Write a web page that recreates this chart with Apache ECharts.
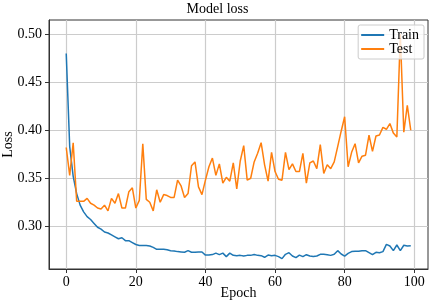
<!DOCTYPE html>
<html>
<head>
    <meta http-equiv="Content-Type" content="text/html; charset=utf-8" />
    <title>Model loss</title>
    <script src="https://cdn.jsdelivr.net/npm/echarts@6/dist/echarts.min.js"></script>
</head>
<body style="margin:0;padding:0;background:#ffffff;">
    <div id="main" style="width:435px;height:304px;"></div>
    <script type="text/javascript">
        // data
        var seriesNames = ['Train', 'Test'];
        var epochs = [];
        for (var i = 0; i < 100; i++) epochs.push(i);
        var trainLoss = [
            0.480, 0.383, 0.352, 0.334, 0.322, 0.315, 0.310, 0.307, 0.303, 0.299,
            0.297, 0.294, 0.293, 0.291, 0.289, 0.287, 0.288, 0.285, 0.285, 0.283,
            0.281, 0.280, 0.280, 0.280, 0.2795, 0.278, 0.276, 0.276, 0.276, 0.2755,
            0.2746, 0.2743, 0.2736, 0.2733, 0.2730, 0.2746, 0.2729, 0.2729, 0.2732, 0.2732,
            0.2700, 0.2700, 0.2705, 0.2720, 0.2705, 0.2720, 0.2684, 0.2720, 0.2697, 0.2694,
            0.2697, 0.2690, 0.2697, 0.2697, 0.2705, 0.2697, 0.2694, 0.2677, 0.2700, 0.2694,
            0.2697, 0.2684, 0.2663, 0.2708, 0.2725, 0.2690, 0.2673, 0.2700, 0.2684, 0.2704,
            0.2690, 0.2684, 0.2690, 0.2708, 0.2708, 0.2704, 0.2697, 0.2708, 0.2746, 0.2711,
            0.2690, 0.2718, 0.2736, 0.2740, 0.2740, 0.2746, 0.2746, 0.2725, 0.2704, 0.2729,
            0.2725, 0.2736, 0.2812, 0.2795, 0.2746, 0.2805, 0.2746, 0.2802, 0.2795, 0.2798
        ];
        var testLoss = [
            0.382, 0.353, 0.387, 0.326, 0.326, 0.326, 0.329, 0.324, 0.322, 0.319,
            0.318, 0.322, 0.316, 0.329, 0.324, 0.334, 0.319, 0.319, 0.336, 0.340,
            0.319, 0.327, 0.386, 0.328, 0.325, 0.316, 0.338, 0.325, 0.333, 0.332,
            0.330, 0.330, 0.348, 0.342, 0.330, 0.334, 0.363, 0.367, 0.341, 0.333,
            0.348, 0.362, 0.371, 0.353, 0.365, 0.345, 0.351, 0.347, 0.366, 0.339,
            0.368, 0.384, 0.348, 0.350, 0.367, 0.376, 0.387, 0.364, 0.347, 0.377,
            0.357, 0.349, 0.348, 0.377, 0.359, 0.365, 0.357, 0.357, 0.376, 0.345,
            0.366, 0.368, 0.360, 0.385, 0.355, 0.364, 0.360, 0.367, 0.383, 0.399,
            0.414, 0.362, 0.377, 0.386, 0.366, 0.373, 0.374, 0.395, 0.378, 0.394,
            0.395, 0.403, 0.401, 0.407, 0.397, 0.393, 0.500, 0.398, 0.426, 0.400
        ];
        var xTicks = [0, 20, 40, 60, 80, 100];
        var yTicks = [0.30, 0.35, 0.40, 0.45, 0.50];

        var fontName = '"Liberation Serif", "DejaVu Serif", serif';

        function pairs(xs, ys) {
            var out = [];
            for (var k = 0; k < ys.length; k++) out.push([xs[k], ys[k]]);
            return out;
        }

        var chart = echarts.init(document.getElementById('main'), null, { renderer: 'canvas' });
        var option = {
            backgroundColor: '#ffffff',
            animation: false,
            textStyle: { fontFamily: fontName },
            title: {
                text: 'Model loss',
                left: 'center',
                top: -3,
                textStyle: { fontFamily: fontName, fontSize: 14, fontWeight: 'normal', color: '#000000' }
            },
            legend: {
                orient: 'vertical',
                right: 11,
                top: 25,
                z: 10,
                data: [
                    { name: seriesNames[0], icon: 'rect' },
                    { name: seriesNames[1], icon: 'rect' }
                ],
                itemWidth: 23,
                itemHeight: 2,
                itemGap: 0,
                padding: [3, 5, 3, 3],
                backgroundColor: 'rgba(255,255,255,0.8)',
                borderColor: '#cccccc',
                borderWidth: 1,
                borderRadius: 2,
                textStyle: { fontFamily: fontName, fontSize: 14, color: '#000000', lineHeight: 12, padding: [0, 0, 0, 0] }
            },
            grid: {
                left: 49,
                right: 7,
                top: 20,
                bottom: 35,
                show: true,
                borderColor: '#333333',
                borderWidth: 1,
                containLabel: false,
                outerBoundsMode: 'none'
            },
            xAxis: {
                type: 'value',
                min: -4.95,
                max: 103.95,
                name: 'Epoch',
                nameLocation: 'middle',
                nameGap: 17,
                nameMoveOverlap: false,
                nameTextStyle: { fontFamily: fontName, fontSize: 14, color: '#000000' },
                axisLine: { show: true, onZero: false, lineStyle: { color: '#333333', width: 1 } },
                axisTick: { show: true, length: 4, customValues: xTicks, lineStyle: { color: '#333333' } },
                axisLabel: { customValues: xTicks, fontFamily: fontName, fontSize: 14, color: '#000000', margin: 6 },
                splitLine: { show: true, lineStyle: { color: '#cccccc', width: 1.2 } }
            },
            yAxis: {
                type: 'value',
                min: 0.2555,
                max: 0.5148,
                name: 'Loss',
                nameLocation: 'middle',
                nameGap: 34,
                nameMoveOverlap: false,
                nameTextStyle: { fontFamily: fontName, fontSize: 14, color: '#000000' },
                axisLine: { show: true, onZero: false, lineStyle: { color: '#333333', width: 1 } },
                axisTick: { show: true, length: 4, customValues: yTicks, lineStyle: { color: '#333333' } },
                axisLabel: {
                    customValues: yTicks,
                    fontFamily: fontName, fontSize: 14, color: '#000000', margin: 7,
                    formatter: function (v) { return v.toFixed(2); }
                },
                splitLine: { show: true, lineStyle: { color: '#cccccc', width: 1.2 } }
            },
            series: [
                {
                    name: seriesNames[0],
                    type: 'line',
                    data: pairs(epochs, trainLoss),
                    showSymbol: false,
                    symbol: 'none',
                    color: '#1f77b4',
                    lineStyle: { color: '#1f77b4', width: 1.5 },
                    z: 3
                },
                {
                    name: seriesNames[1],
                    type: 'line',
                    data: pairs(epochs, testLoss),
                    showSymbol: false,
                    symbol: 'none',
                    color: '#ff7f0e',
                    lineStyle: { color: '#ff7f0e', width: 1.5 },
                    z: 4
                }
            ]
        };
        chart.setOption(option);
    </script>
</body>
</html>
